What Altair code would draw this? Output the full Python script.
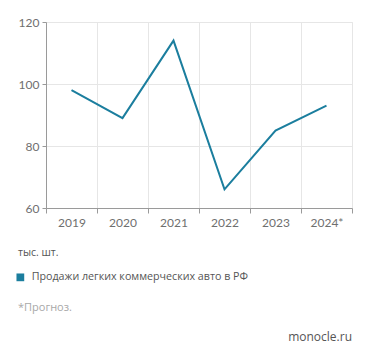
import altair as alt
import pandas as pd

years = ["2019", "2020", "2021", "2022", "2023", "2024*"]
values = [98, 89, 114, 66, 85, 93]
series_name = "Продажи легких коммерческих авто в РФ"
unit_label = "тыс. шт."
note_label = "*Прогноз."
source_label = "monocle.ru"

df = pd.DataFrame({"year": years, "value": values, "series": [series_name] * len(years)})

FONT = "Lato"
NFONT = "Open Sans"
LINE = "#1b7e9e"

base = alt.Chart(df)

line = base.mark_line(strokeWidth=2).encode(
    x=alt.X("year:O", sort=years, title=None,
            scale=alt.Scale(paddingInner=0, paddingOuter=0),
            axis=alt.Axis(tickBand="extent", labelAngle=0, grid=True, gridColor="#e6e6e6",
                          domainColor="#9a9a9a", tickColor="#9a9a9a", tickSize=5,
                          labelColor="#6f6f6f", labelFontSize=12, labelFont=FONT, labelPadding=4)),
    y=alt.Y("value:Q", title=None,
            scale=alt.Scale(domain=[60, 120], nice=False, zero=False),
            axis=alt.Axis(values=[60, 80, 100, 120], grid=True, gridColor="#e6e6e6",
                          domainColor="#9a9a9a", tickColor="#9a9a9a", tickSize=4,
                          labelColor="#6f6f6f", labelFontSize=12, labelFont=FONT, labelPadding=3)),
    color=alt.Color("series:N", scale=alt.Scale(range=[LINE]),
                    legend=alt.Legend(orient="none", legendX=-31, legendY=250, title=None,
                                      symbolType="square", symbolSize=60, symbolFillColor=LINE,
                                      symbolStrokeWidth=0, labelFontSize=10.7, labelFont=NFONT,
                                      labelColor="#555555", labelOffset=6, labelLimit=0)),
)

def note(text, x, y, color, size, align="left"):
    return alt.Chart(pd.DataFrame({"t": [text]})).mark_text(
        align=align, baseline="middle", font=NFONT, fontSize=size, color=color
    ).encode(text="t:N", x=alt.value(x), y=alt.value(y))

chart = alt.layer(
    line,
    note(unit_label, -28, 231, "#555555", 10.5),
    note(note_label, -28, 286, "#a8a8a8", 11),
    note(source_label, 306, 315, "#555555", 12, align="right"),
).properties(
    width=306, height=186,
    autosize=alt.AutoSizeParams(type="none"),
    padding={"left": 38, "top": 14, "right": 11, "bottom": 140},
).configure_view(stroke="#e6e6e6")

chart.save("out.html", embed_options={"renderer": "svg", "actions": False})
